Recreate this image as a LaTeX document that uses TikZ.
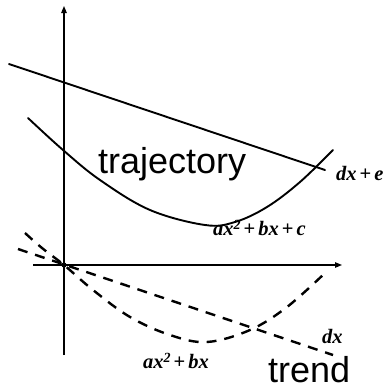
\documentclass[tikz,border=0pt]{standalone}
\usepackage{fontspec}
\newfontfamily\arialf{Liberation Sans}
\newfontfamily\timesf{Liberation Serif}
\usetikzlibrary{arrows.meta}
\newcommand{\sqtwo}{\raisebox{0.6ex}{\fontsize{14}{14}\selectfont 2}}
\newcommand{\plussign}{\kern3pt{\upshape +}\kern3pt}
\tikzset{
  axisline/.style={line width=1.1pt, -{Triangle[length=7pt,width=5.5pt]}},
  solidcurve/.style={line width=1.9pt, line cap=round},
  dashcurve/.style={line width=2.4pt, dash pattern=on 10pt off 8pt},
  bigtext/.style={font=\arialf\fontsize{36}{40}\selectfont, inner sep=0pt, anchor=base west},
  mathlab/.style={font=\timesf\bfseries\itshape\fontsize{20.5}{22}\selectfont, inner sep=0pt, anchor=base west}
}
\begin{document}
\begin{tikzpicture}[x=1pt,y=-1pt]
\useasboundingbox (0,0) rectangle (386,389);
% axes
\coordinate (ybot) at (64,355);
\coordinate (ytop) at (64,6);
\coordinate (xl) at (33,265);
\coordinate (xr) at (342,265);
\coordinate (o) at (64,265);
\draw[axisline] (ybot) -- (ytop);
\draw[axisline] (xl) -- (xr);
% trajectory: line dx+e
\coordinate (l1a) at (9,64);
\coordinate (l1b) at (325,170);
\draw[solidcurve] (l1a) -- (l1b);
% trajectory: parabola
\draw[solidcurve] plot[smooth, tension=0.6] coordinates
  {(28,118) (63,150) (100,180) (150,210) (205,225) (235,222) (267,207) (300,182) (333,150)};
% trend: line dx
\coordinate (l2a) at (18,249);
\coordinate (l2b) at (333,355);
\draw[dashcurve] (l2a) -- (l2b);
% trend: parabola
\draw[dashcurve] plot[smooth, tension=0.6] coordinates
  {(25,233) (42,248) (64,265) (93,290) (130,317) (170,335) (207,342) (250,330) (287,307) (325,273)};
% origin mark
\fill (o) circle (2.6pt);
% labels
\node[bigtext] (traj) at (98,173) {trajectory};
\node[bigtext] (trend) at (268,382) {trend};
\node[mathlab] (dxe) at (336,180) {dx\plussign e};
\node[mathlab] (quad1) at (213,235) {ax\sqtwo\plussign bx\plussign c};
\node[mathlab] (dx) at (322,343) {dx};
\node[mathlab] (quad2) at (143,368) {ax\sqtwo\plussign bx};
\end{tikzpicture}
\end{document}
